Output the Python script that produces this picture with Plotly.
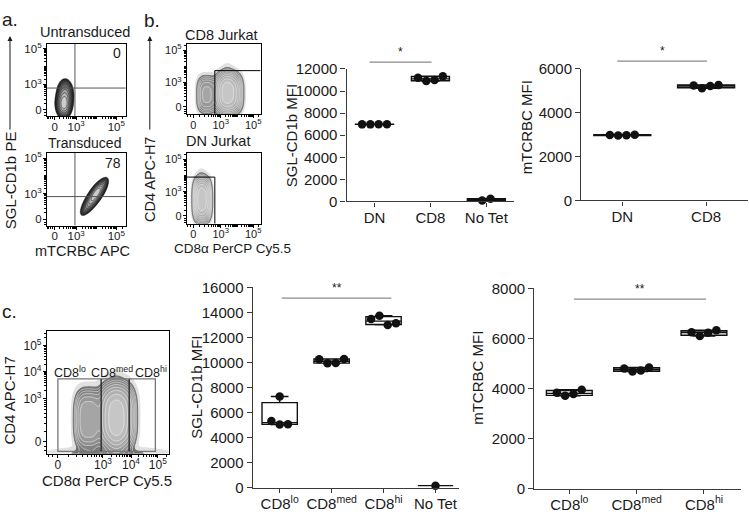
import numpy as np
import plotly.graph_objects as go

W, H = 749, 515
FONT = "Liberation Sans, Arial, sans-serif"
TXT = "#1a1a1a"

# ---------------- data: MFI box plots ----------------
B_CATS_SGL = ["DN", "CD8", "No Tet"]
B_SGL_DN = [6980, 6980, 6990, 7000]
B_SGL_CD8 = [11200, 10900, 11000, 11350]
B_SGL_NOTET = [90, 240]

B_CATS_TCR = ["DN", "CD8"]
B_TCR_DN = [2990, 2960, 2980, 3000]
B_TCR_CD8 = [5250, 5120, 5220, 5270]

C_CATS_SGL = ["CD8<sup>lo</sup>", "CD8<sup>med</sup>", "CD8<sup>hi</sup>", "No Tet"]
C_SGL_LO = [7290, 5330, 5050, 5070]
C_SGL_MED = [10260, 9950, 9960, 10290]
C_SGL_HI = [13480, 13740, 13010, 13140]
C_SGL_NOTET = [160]

C_CATS_TCR = ["CD8<sup>lo</sup>", "CD8<sup>med</sup>", "CD8<sup>hi</sup>"]
C_TCR_LO = [3830, 3710, 3780, 3950]
C_TCR_MED = [4800, 4680, 4720, 4840]
C_TCR_HI = [6250, 6100, 6230, 6330]

SIG_B = ["*", "*"]
SIG_C = ["**", "**"]

# ---------------- data: flow plots (populations) ----------------
# each component: (centre x, centre y, spread x, spread y, tilt deg, shape exponent, weight)
# coordinates are fractions of the plot box (display scale)
POP_UNTRANSDUCED = [(0.215, 0.17, 0.040, 0.075, 0, 2, 1.0),
                    (0.230, 0.30, 0.045, 0.090, 0, 2, 0.35)]
POP_TRANSDUCED = [(0.600, 0.40, 0.110, 0.032, 58, 2, 1.0),
                  (0.640, 0.47, 0.070, 0.030, 58, 2, 0.6)]
POP_CD8_JURKAT = [(0.560, 0.30, 0.110, 0.170, 0, 3, 1.0),
                  (0.270, 0.28, 0.080, 0.160, 0, 3, 0.30),
                  (0.550, 0.32, 0.050, 0.130, 0, 2, 0.6)]
POP_DN_JURKAT = [(0.210, 0.34, 0.072, 0.180, 0, 3, 1.0),
                 (0.200, 0.35, 0.040, 0.140, 0, 2, 0.5)]
POP_CD8_SORT = [(0.570, 0.30, 0.090, 0.160, 0, 3, 1.0),
                (0.340, 0.28, 0.070, 0.150, 0, 3, 0.40),
                (0.570, 0.28, 0.040, 0.130, 0, 2, 0.6),
                (0.500, 0.00, 0.250, 0.030, 0, 2, 0.05)]

QUAD_PCT = ["0", "78"]
FLOW_TITLES = ["Untransduced", "Transduced", "CD8 Jurkat", "DN Jurkat"]
TICKS_3 = ["0", "10<sup>3</sup>", "10<sup>5</sup>"]
TICKS_4 = ["0", "10<sup>3</sup>", "10<sup>4</sup>", "10<sup>5</sup>"]
GATE_LABELS = ["CD8<sup>lo</sup>", "CD8<sup>med</sup>", "CD8<sup>hi</sup>"]

fig = go.Figure()
layout = {}
shapes = []
anns = []


def dom(x0, x1, y0, y1):
    return [x0 / W, x1 / W], [1 - y1 / H, 1 - y0 / H]


def names(n):
    k = "" if n == 1 else str(n)
    return "xaxis" + k, "yaxis" + k, "x" + k, "y" + k


def ann(text, x, y, size, angle=0, xa="center", ya="middle", color=TXT, xref="paper", yref="paper"):
    if xref == "paper":
        x = x / W
    if yref == "paper":
        y = 1 - y / H
    anns.append(dict(text=text, x=x, y=y, xref=xref, yref=yref, showarrow=False,
                     textangle=angle, xanchor=xa, yanchor=ya,
                     font=dict(family=FONT, size=size, color=color)))


def minor_pos(p0, p3, pdec):
    out = []
    for dec in range(0, 3):
        base = p3 + dec * pdec
        for k in range(1, 10):
            if k == 1 and dec != 1:
                continue
            out.append(base + np.log10(k) * pdec)
    w0 = 150.0
    for v in range(100, 1000, 100):
        f = np.arcsinh(v / w0) / np.arcsinh(1000 / w0)
        out.append(p0 + (p3 - p0) * f)
        out.append(p0 - (p3 - p0) * f * 0.5)
    return [p for p in out if 0.01 < p < 0.99]


def flow_axes(n, box, xt, yt, xlab, ylab, tsize):
    xk, yk, xr, yr = names(n)
    xd, yd = dom(*box)
    common = dict(range=[0, 1], showline=True, linecolor="black", linewidth=1, mirror=True,
                  showgrid=False, zeroline=False, ticks="outside", ticklen=3, tickwidth=1,
                  tickcolor="black", tickmode="array", fixedrange=True,
                  tickfont=dict(family=FONT, size=tsize, color=TXT))
    layout[xk] = dict(common, domain=xd, anchor=yr, tickvals=xt[0], ticktext=xlab,
                      ticklabelstandoff=-3,
                      minor=dict(tickmode="array", tickvals=minor_pos(*xt[1]), ticklen=2,
                                 ticks="outside", tickcolor="black", tickwidth=0.8))
    layout[yk] = dict(common, domain=yd, anchor=xr, tickvals=yt[0], ticktext=ylab,
                      ticklabelstandoff=-1,
                      minor=dict(tickmode="array", tickvals=minor_pos(*yt[1]), ticklen=2,
                                 ticks="outside", tickcolor="black", tickwidth=0.8))
    return xr, yr


GRID = np.linspace(0, 1, 181)
GX, GY = np.meshgrid(GRID, GRID)


def density(pop):
    d = np.zeros_like(GX)
    for cx, cy, sx, sy, ang, p, w in pop:
        t = np.deg2rad(ang)
        u = (GX - cx) * np.cos(t) + (GY - cy) * np.sin(t)
        v = -(GX - cx) * np.sin(t) + (GY - cy) * np.cos(t)
        d += w * np.exp(-0.5 * (np.abs(u / sx) ** p + np.abs(v / sy) ** p))
    return np.log10(d / d.max() + 1e-12)


def flow_traces(xr, yr, pop, dark, light, linecol, lw, haze):
    z = density(pop)
    T = "rgba(255,255,255,0)"
    if haze:
        fig.add_trace(go.Contour(x=GRID, y=GRID, z=z, xaxis=xr, yaxis=yr, autocontour=False,
                                 contours=dict(start=-2.5, end=-2.5, size=1, coloring="fill", showlines=False),
                                 colorscale=[[0, T], [0.6, T], [0.61, "#e0e0e0"], [1, "#e0e0e0"]],
                                 line=dict(width=0, smoothing=1), showscale=False, hoverinfo="skip"))
    start, end, size = -1.8, -0.2, 0.2
    nc = int(round((end - start) / size)) + 1
    th = 0.75 / nc
    fig.add_trace(go.Contour(x=GRID, y=GRID, z=z, xaxis=xr, yaxis=yr, autocontour=False,
                             contours=dict(start=start, end=end, size=size, coloring="fill", showlines=True),
                             colorscale=[[0, T], [th, T], [th + 1e-4, dark], [1, light]],
                             line=dict(color=linecol, width=lw, smoothing=1), showscale=False,
                             hoverinfo="skip"))
    if haze:
        fig.add_trace(go.Contour(x=GRID, y=GRID, z=z, xaxis=xr, yaxis=yr, autocontour=False,
                                 contours=dict(start=start, end=start, size=1, coloring="none"),
                                 line=dict(color="#505050", width=0.9, smoothing=1), showscale=False,
                                 hoverinfo="skip"))


def seg(xr, yr, x0, y0, x1, y1, color="black", w=1):
    shapes.append(dict(type="line", xref=xr, yref=yr, x0=x0, y0=y0, x1=x1, y1=y1,
                       line=dict(color=color, width=w), layer="above"))


# ---------------- panel a ----------------
A_X = ([0.10, 0.37, 0.88], (0.10, 0.37, 0.255))
A_Y = ([0.09, 0.44, 0.93], (0.09, 0.44, 0.245))
xr, yr = flow_axes(1, (47, 126, 36, 111), A_X, A_Y, TICKS_3, TICKS_3, 11.5)
flow_traces(xr, yr, POP_UNTRANSDUCED, "#2a2a2a", "#cccccc", "#1a1a1a", 0.6, False)
seg(xr, yr, 0.355, 0, 0.355, 1, "#555555")
seg(xr, yr, 0, 0.39, 1, 0.39, "#555555")
ann(QUAD_PCT[0], 0.96, 0.88, 14, xa="right", xref=xr, yref=yr)

xr, yr = flow_axes(2, (47, 126, 149, 224), A_X, A_Y, TICKS_3, TICKS_3, 11.5)
flow_traces(xr, yr, POP_TRANSDUCED, "#2a2a2a", "#cccccc", "#1a1a1a", 0.6, False)
seg(xr, yr, 0.355, 0, 0.355, 1, "#555555")
seg(xr, yr, 0, 0.40, 1, 0.40, "#555555")
ann(QUAD_PCT[1], 0.96, 0.86, 14, xa="right", xref=xr, yref=yr)

ann(FLOW_TITLES[0], 85, 24, 14.5)
ann(FLOW_TITLES[1], 85, 139, 14)
ann("mTCRBC APC", 83, 250, 14.5)
ann("SGL-CD1b PE", 10, 177, 15, angle=-90)

# ---------------- panel b flow ----------------
B_X = ([0.09, 0.46, 0.90], (0.09, 0.46, 0.22))
B_Y = ([0.11, 0.45, 0.91], (0.11, 0.45, 0.23))
xr, yr = flow_axes(3, (187, 261, 36, 109), B_X, B_Y, TICKS_3, TICKS_3, 11)
flow_traces(xr, yr, POP_CD8_JURKAT, "#6a6a6a", "#c6c6c6", "#f4f4f4", 0.6, True)
seg(xr, yr, 0.38, 0, 0.38, 0.62)
seg(xr, yr, 0.38, 0.62, 1, 0.62)

xr, yr = flow_axes(4, (187, 261, 149, 222), B_X, B_Y, TICKS_3, TICKS_3, 11)
flow_traces(xr, yr, POP_DN_JURKAT, "#6a6a6a", "#c6c6c6", "#f4f4f4", 0.6, True)
seg(xr, yr, 0.38, 0, 0.38, 0.66)
seg(xr, yr, 0, 0.66, 0.38, 0.66)

ann(FLOW_TITLES[2], 222, 27, 14.5)
ann(FLOW_TITLES[3], 218, 137, 14.5)
ann("CD8\u03b1 PerCP Cy5.5", 233, 248, 13.5)
ann("CD4 APC-H7", 150, 176, 14.5, angle=-90)

# arrows on the y titles of a and b
for xp in (10, 150):
    anns.append(dict(x=xp / W, y=1 - 28 / H, xref="paper", yref="paper", text="", showarrow=True,
                     ax=0, ay=95, axref="pixel", ayref="pixel", arrowhead=2, arrowsize=1,
                     arrowwidth=1, arrowcolor=TXT))

# ---------------- panel c flow ----------------
C_X = ([0.09, 0.46, 0.69, 0.91], (0.09, 0.46, 0.225))
C_Y = ([0.10, 0.45, 0.67, 0.88], (0.10, 0.45, 0.215))
xr, yr = flow_axes(5, (47, 169, 333, 460), C_X, C_Y, TICKS_4, TICKS_4, 12)
flow_traces(xr, yr, POP_CD8_SORT, "#6a6a6a", "#c6c6c6", "#f4f4f4", 0.6, True)
shapes.append(dict(type="rect", xref=xr, yref=yr, x0=0.09, x1=0.89, y0=0.02, y1=0.61,
                   line=dict(color="#777777", width=1.3), layer="above"))
seg(xr, yr, 0.445, 0.02, 0.445, 0.61, "#222222", 1.3)
seg(xr, yr, 0.675, 0.02, 0.675, 0.61, "#222222", 1.3)
for lab, gx in zip(GATE_LABELS, [0.19, 0.53, 0.855]):
    ann(lab, gx, 0.67, 12.5, xref=xr, yref=yr)
ann("CD8\u03b1 PerCP Cy5.5", 107, 488, 15)
ann("CD4 APC-H7", 10, 405, 15, angle=-90)

# ---------------- box plots ----------------
DOT_PX = 8.3


def swarm(vals, ppv):
    vals = np.asarray(vals, float)
    order = np.argsort(vals, kind="stable")
    groups, cur = [], [order[0]]
    for a, b in zip(order[:-1], order[1:]):
        if (vals[b] - vals[a]) * ppv < DOT_PX:
            cur.append(b)
        else:
            groups.append(cur)
            cur = [b]
    groups.append(cur)
    off = np.zeros(len(vals))
    for g in groups:
        g = sorted(g)
        for j, idx in enumerate(g):
            off[idx] = (j - (len(g) - 1) / 2) * DOT_PX
    return off


def box_panel(n, box, xrange_, ymax, cats, groups, title, title_pos, sig, sig_y, sig_span):
    xk, yk, xr, yr = names(n)
    xd, yd = dom(*box)
    wpx = box[1] - box[0]
    hpx = box[3] - box[2]
    ppx = wpx / (xrange_[1] - xrange_[0])
    ppv = hpx / ymax
    axc = "#3a3a3a"
    layout[xk] = dict(domain=xd, anchor=yr, range=xrange_, showline=True, linecolor=axc, linewidth=1.3,
                      showgrid=False, zeroline=False, ticks="outside", ticklen=4, tickwidth=1.3,
                      tickcolor=axc, tickmode="array", tickvals=list(range(len(cats))), ticktext=cats,
                      ticklabelstandoff=-2,
                      tickfont=dict(family=FONT, size=15, color=TXT), fixedrange=True)
    layout[yk] = dict(domain=yd, anchor=xr, range=[0, ymax], showline=True, linecolor=axc, linewidth=1.3,
                      showgrid=False, zeroline=False, ticks="outside", ticklen=5, tickwidth=1.3,
                      tickcolor=axc, tickmode="array", tickvals=list(range(0, ymax + 1, 2000)),
                      tickformat="d", tickfont=dict(family=FONT, size=15, color=TXT), fixedrange=True)
    for i, vals in enumerate(groups):
        q1, med, q3 = np.percentile(vals, [25, 50, 75], method="weibull")
        fig.add_trace(go.Box(x=[i], q1=[q1], median=[med], q3=[q3], lowerfence=[min(vals)],
                             upperfence=[max(vals)], width=0.68, whiskerwidth=0.5,
                             fillcolor="white", line=dict(color="#111111", width=1.4),
                             boxpoints=False, xaxis=xr, yaxis=yr, hoverinfo="skip"))
        off = swarm(vals, ppv)
        fig.add_trace(go.Scatter(x=i + off / ppx, y=vals, mode="markers", xaxis=xr, yaxis=yr,
                                 marker=dict(color="#111111", size=8.5, line=dict(width=0)),
                                 hoverinfo="skip", cliponaxis=False))
    ann(title, title_pos[0], title_pos[1], 15, angle=-90)
    # significance bracket
    shapes.append(dict(type="line", xref=xr, yref="paper", x0=sig_span[0], x1=sig_span[1],
                       y0=1 - sig_y / H, y1=1 - sig_y / H, line=dict(color="#8a8a8a", width=1.2)))
    xm = (sig_span[0] + sig_span[1]) / 2
    anns.append(dict(text=sig, x=xm, y=1 - (sig_y - 1) / H, xref=xr, yref="paper", showarrow=False,
                     xanchor="center", yanchor="bottom", font=dict(family=FONT, size=12, color=TXT)))


box_panel(6, (347, 515, 62, 199), [-0.5, 2.5], 12000, B_CATS_SGL,
          [B_SGL_DN, B_SGL_CD8, B_SGL_NOTET], "SGL-CD1b MFI", (292, 131), SIG_B[0], 55, (-0.09, 1.02))
box_panel(7, (582, 749, 62, 198), [-0.49, 1.5], 6000, B_CATS_TCR,
          [B_TCR_DN, B_TCR_CD8], "mTCRBC MFI", (528, 122), SIG_B[1], 54, (-0.06, 1.01))
box_panel(8, (253, 460, 288, 495), [-0.52, 3.46], 16000, C_CATS_SGL,
          [C_SGL_LO, C_SGL_MED, C_SGL_HI, C_SGL_NOTET], "SGL-CD1b MFI", (196, 391), SIG_C[0], 299,
          (0.04, 2.15))
box_panel(9, (535, 742, 289, 496), [-0.52, 2.55], 8000, C_CATS_TCR,
          [C_TCR_LO, C_TCR_MED, C_TCR_HI], "mTCRBC MFI", (478, 381), SIG_C[1], 300, (0.07, 2.03))

# panel letters
ann("a.", 0, 11, 19, xa="left")
ann("b.", 142, 12, 19, xa="left")
ann("c.", 0, 313, 19, xa="left")

fig.update_layout(width=W, height=H, margin=dict(l=0, r=0, t=0, b=0), paper_bgcolor="white",
                  plot_bgcolor="white", showlegend=False, shapes=shapes, annotations=anns, **layout)
fig.write_html("out.html", config={"displayModeBar": False},
               post_script="document.body.style.margin='0px';")
